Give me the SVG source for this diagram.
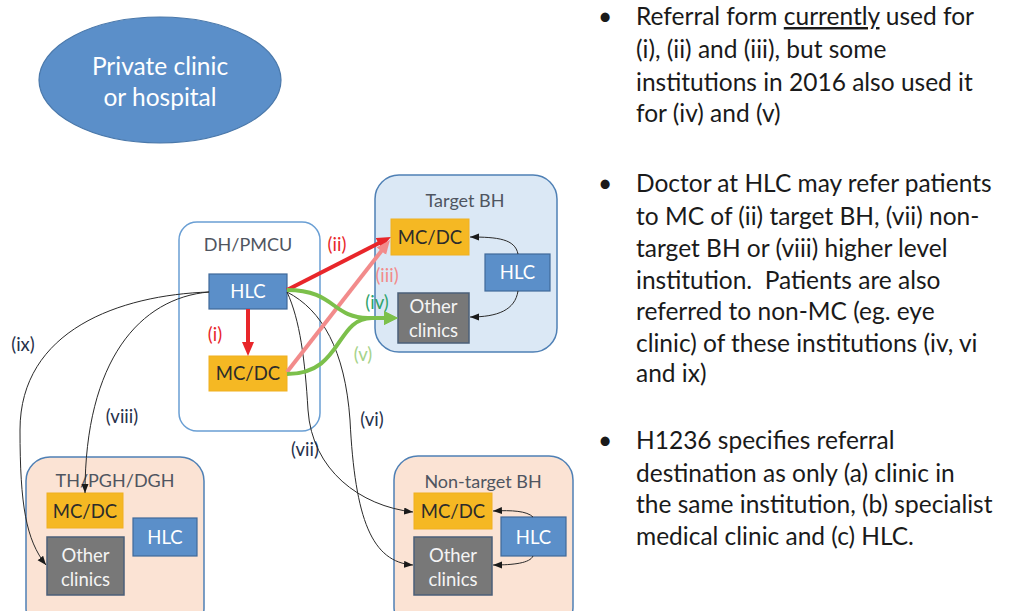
<svg xmlns="http://www.w3.org/2000/svg" width="1013" height="611" viewBox="0 0 1013 611">
<style>
  text { font-family: Lato, "Liberation Sans", sans-serif; }
  .box-text { font-size: 18.5px; text-anchor: middle; }
  .title { font-size: 18px; fill: #4f5560; text-anchor: middle; }
  .hlc rect { fill: #5b8fc9; stroke: #40699a; stroke-width: 1.2; }
  .hlc text { fill: #ffffff; }
  .mc rect { fill: #f5b823; stroke: #f0b020; stroke-width: 1; }
  .mc text { fill: #2b2b2b; }
  .oc rect { fill: #787878; stroke: #4b5f78; stroke-width: 1.5; }
  .oc text { fill: #f4f4f4; }
  .blue-cont { fill: #dbe8f5; stroke: #4f80b5; stroke-width: 1.5; }
  .peach-cont { fill: #fbe3d4; stroke: #4f80b5; stroke-width: 1.5; }
  .thin { fill: none; stroke: #2a2a2a; stroke-width: 1; marker-end: url(#ah-black); }
  .lbl { font-size: 18.5px; text-anchor: middle; }
  .dark { fill: #26304a; }
  .body { font-size: 24.5px; fill: #1a1a1a; }
</style>
<defs>
  <marker id="ah-black" markerUnits="userSpaceOnUse" markerWidth="10" markerHeight="8" refX="9" refY="3.5" orient="auto">
    <path d="M0,0 L9,3.5 L0,7 z" fill="#1a1a1a"/>
  </marker>
  <marker id="ah-red" markerUnits="userSpaceOnUse" markerWidth="16" markerHeight="14" refX="4" refY="6" orient="auto">
    <path d="M0,0 L14,6 L0,12 z" fill="#e8262a"/>
  </marker>
  <marker id="ah-pink" markerUnits="userSpaceOnUse" markerWidth="16" markerHeight="14" refX="4" refY="6" orient="auto">
    <path d="M0,0 L14,6 L0,12 z" fill="#f28b8b"/>
  </marker>
  <marker id="ah-green" markerUnits="userSpaceOnUse" markerWidth="16" markerHeight="16" refX="4" refY="7" orient="auto">
    <path d="M0,0 L14,7 L0,14 z" fill="#7cc04b"/>
  </marker>
</defs>

<g id="private-clinic">
  <ellipse cx="160" cy="80" rx="121" ry="63" fill="#5b8fc9" stroke="#4a78aa" stroke-width="1.2"/>
  <text x="160" y="75" font-size="24.5" fill="#ffffff" text-anchor="middle">Private clinic</text>
  <text x="160" y="106" font-size="24.5" fill="#ffffff" text-anchor="middle">or hospital</text>
</g>

<g id="dh-pmcu">
  <rect x="179" y="222" width="141" height="209" rx="18" fill="#ffffff" stroke="#6a9fd4" stroke-width="1.5"/>
  <text class="title" x="248" y="251">DH/PMCU</text>
</g>
<g id="target-bh">
  <rect class="blue-cont" x="375" y="175" width="182" height="177" rx="24"/>
  <text class="title" x="465" y="207">Target BH</text>
</g>
<g id="th-pgh-dgh">
  <rect class="peach-cont" x="26" y="457" width="178" height="175" rx="24"/>
  <text class="title" x="115" y="487">TH/PGH/DGH</text>
</g>
<g id="non-target-bh">
  <rect class="peach-cont" x="394" y="456" width="179" height="175" rx="24"/>
  <text class="title" x="483" y="488">Non-target BH</text>
</g>

<g id="dh-hlc" class="hlc">
  <rect x="209" y="274" width="78" height="35"/>
  <text class="box-text" x="248" y="298">HLC</text>
</g>
<g id="dh-mcdc" class="mc">
  <rect x="209" y="356" width="78" height="35"/>
  <text class="box-text" x="248" y="380">MC/DC</text>
</g>

<g id="tbh-mcdc" class="mc">
  <rect x="391" y="219" width="78" height="36"/>
  <text class="box-text" x="430" y="243.5">MC/DC</text>
</g>
<g id="tbh-hlc" class="hlc">
  <rect x="485" y="254" width="65" height="37"/>
  <text class="box-text" x="517.5" y="279">HLC</text>
</g>
<g id="tbh-other" class="oc">
  <rect x="398" y="293" width="71" height="50"/>
  <text class="box-text" x="433.5" y="313">Other</text>
  <text class="box-text" x="433.5" y="337">clinics</text>
</g>

<g id="th-mcdc" class="mc">
  <rect x="47" y="493" width="76" height="35"/>
  <text class="box-text" x="85" y="517.5">MC/DC</text>
</g>
<g id="th-other" class="oc">
  <rect x="47" y="537" width="77" height="58"/>
  <text class="box-text" x="85.5" y="562">Other</text>
  <text class="box-text" x="85.5" y="586">clinics</text>
</g>
<g id="th-hlc" class="hlc">
  <rect x="133" y="518" width="64" height="38"/>
  <text class="box-text" x="165" y="543.5">HLC</text>
</g>

<g id="ntbh-mcdc" class="mc">
  <rect x="414" y="493" width="78" height="36"/>
  <text class="box-text" x="453" y="517.5">MC/DC</text>
</g>
<g id="ntbh-other" class="oc">
  <rect x="414" y="537" width="78" height="58"/>
  <text class="box-text" x="453" y="562">Other</text>
  <text class="box-text" x="453" y="586">clinics</text>
</g>
<g id="ntbh-hlc" class="hlc">
  <rect x="501" y="517" width="65" height="39"/>
  <text class="box-text" x="533.5" y="543.5">HLC</text>
</g>

<g id="connectors">
  <path class="thin" d="M518,254 C515,239 498,237 470,237"/>
  <path class="thin" d="M518,291 C515,310 498,317 470,317"/>
  <path class="thin" d="M533,517 C527,511 512,510 493,511"/>
  <path class="thin" d="M533,556 C530,563 514,565 493,565"/>
  <path class="thin" d="M209,292 C120,295 20,330 20,430 C20,505 26,540 46,565"/>
  <path class="thin" d="M209,292 C140,298 85,360 85,493"/>
  <path class="thin" d="M287,292 C300,320 305,360 308,410 C312,470 360,506 413,512"/>
  <path class="thin" d="M287,292 C322,310 345,350 350,420 C355,520 372,562 413,565"/>
  <path d="M248,309 L248,346" stroke="#e8262a" stroke-width="4" fill="none" marker-end="url(#ah-red)"/>
  <path d="M287,290 L382,241.5" stroke="#e8262a" stroke-width="4" fill="none" marker-end="url(#ah-red)"/>
  <path d="M287,372 L383.8,247.9" stroke="#f28b8b" stroke-width="4" fill="none" marker-end="url(#ah-pink)"/>
  <path d="M287,290 C335,290 332,318 368,318 L388,318" stroke="#7cc04b" stroke-width="4" fill="none" marker-end="url(#ah-green)"/>
  <path d="M287,374 C343,374 335,318 372,318 L388,318" stroke="#7cc04b" stroke-width="4" fill="none" marker-end="url(#ah-green)"/>
  <text class="lbl" x="215" y="341" fill="#e8262a">(i)</text>
  <text class="lbl" x="337" y="251" fill="#e8262a">(ii)</text>
  <text class="lbl" x="387" y="282" fill="#f28b8b">(iii)</text>
  <text class="lbl" x="377" y="309" fill="#2fa36b">(iv)</text>
  <text class="lbl" x="363" y="361" fill="#a6d38a">(v)</text>
  <text class="lbl dark" x="372" y="426">(vi)</text>
  <text class="lbl dark" x="305" y="456">(vii)</text>
  <text class="lbl dark" x="122" y="423">(viii)</text>
  <text class="lbl dark" x="23" y="351">(ix)</text>
</g>

<g id="notes">
  <text class="body" x="598" y="25">•</text>
  <text class="body" x="636" y="25">Referral form <tspan text-decoration="underline">currently</tspan> used for</text>
  <text class="body" x="636" y="57.5">(i), (ii) and (iii), but some</text>
  <text class="body" x="636" y="90.5">institutions in 2016 also used it</text>
  <text class="body" x="636" y="122">for (iv) and (v)</text>

  <text class="body" x="598" y="192">•</text>
  <text class="body" x="636" y="192">Doctor at HLC may refer patients</text>
  <text class="body" x="636" y="225">to MC of (ii) target BH, (vii) non-</text>
  <text class="body" x="636" y="257">target BH or (viii) higher level</text>
  <text class="body" x="636" y="288.5">institution.&#160; Patients are also</text>
  <text class="body" x="636" y="320">referred to non-MC (eg. eye</text>
  <text class="body" x="636" y="352">clinic) of these institutions (iv, vi</text>
  <text class="body" x="636" y="382">and ix)</text>

  <text class="body" x="598" y="448.5">•</text>
  <text class="body" x="636" y="448.5">H1236 specifies referral</text>
  <text class="body" x="636" y="481.5">destination as only (a) clinic in</text>
  <text class="body" x="636" y="513">the same institution, (b) specialist</text>
  <text class="body" x="636" y="545">medical clinic and (c) HLC.</text>
</g>
</svg>
